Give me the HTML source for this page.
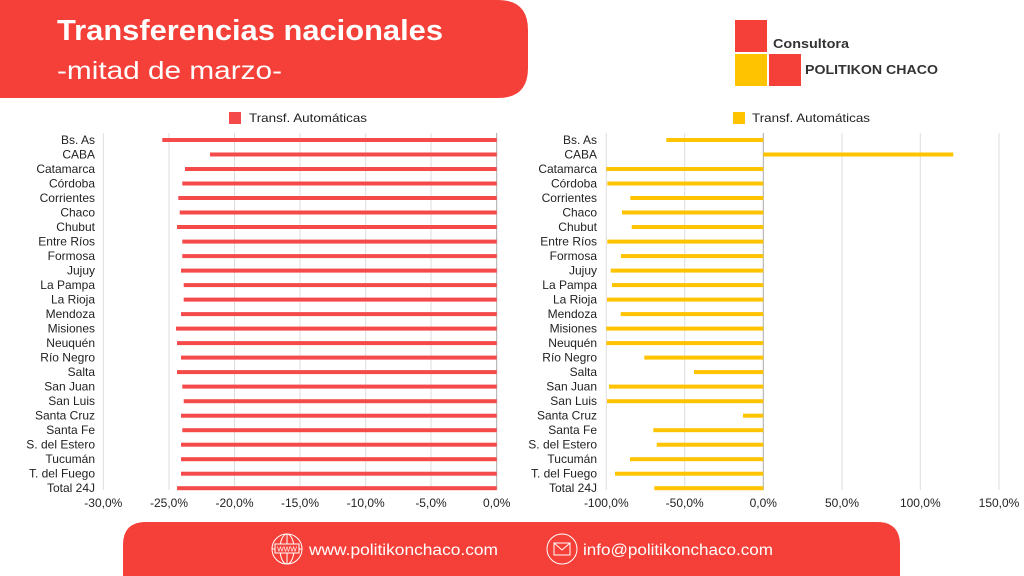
<!DOCTYPE html>
<html><head><meta charset="utf-8"><style>
html,body{margin:0;padding:0;background:#fff;}
svg{display:block;font-family:"Liberation Sans",sans-serif;}
</style></head><body>
<svg width="1024" height="576" viewBox="0 0 1024 576" xmlns="http://www.w3.org/2000/svg">
<path d="M0 0 H498 Q528 0 528 30 V68 Q528 98 498 98 H0 Z" fill="#F44038"/>
<text x="57" y="40" fill="#fff" font-size="29" font-weight="bold" textLength="386" lengthAdjust="spacingAndGlyphs">Transferencias nacionales</text>
<text x="57" y="79" fill="#fff" font-size="25" textLength="225" lengthAdjust="spacingAndGlyphs">-mitad de marzo-</text>
<rect x="735" y="20" width="32" height="32" fill="#F44038"/>
<rect x="735" y="54" width="32" height="32" fill="#FFC300"/>
<rect x="769" y="54" width="32" height="32" fill="#F44038"/>
<text x="773" y="48" font-size="12.5" font-weight="bold" fill="#333" textLength="76" lengthAdjust="spacingAndGlyphs">Consultora</text>
<text x="805" y="74" font-size="13" font-weight="bold" fill="#333" textLength="133" lengthAdjust="spacingAndGlyphs">POLITIKON CHACO</text>
<rect x="229" y="112" width="12" height="12" fill="#F44A4A"/>
<text x="249" y="122" font-size="12" fill="#222" textLength="118" lengthAdjust="spacingAndGlyphs">Transf. Automáticas</text>
<rect x="733" y="112" width="12" height="12" fill="#FFC300"/>
<text x="752" y="122" font-size="12" fill="#222" textLength="118" lengthAdjust="spacingAndGlyphs">Transf. Automáticas</text>
<g stroke="#ddd" stroke-width="1">
<line x1="103.3" y1="133" x2="103.3" y2="490"/><line x1="169" y1="133" x2="169" y2="490"/><line x1="234.5" y1="133" x2="234.5" y2="490"/><line x1="300" y1="133" x2="300" y2="490"/><line x1="365.7" y1="133" x2="365.7" y2="490"/><line x1="431" y1="133" x2="431" y2="490"/>
<line x1="606.3" y1="133" x2="606.3" y2="490"/><line x1="684.7" y1="133" x2="684.7" y2="490"/><line x1="842" y1="133" x2="842" y2="490"/><line x1="920.3" y1="133" x2="920.3" y2="490"/><line x1="999" y1="133" x2="999" y2="490"/>
</g>
<g stroke="#aaa"><line x1="496.7" y1="133" x2="496.7" y2="490"/><line x1="763.3" y1="133" x2="763.3" y2="490"/></g>
<g fill="#F44A4A">
<rect x="162.3" y="138" width="334.4" height="4"/>
<rect x="210" y="152.5" width="286.7" height="4"/>
<rect x="185" y="167" width="311.7" height="4"/>
<rect x="182.3" y="181.5" width="314.4" height="4"/>
<rect x="178.3" y="196" width="318.4" height="4"/>
<rect x="179.7" y="210.5" width="317" height="4"/>
<rect x="177" y="225" width="319.7" height="4"/>
<rect x="182.3" y="239.6" width="314.4" height="4"/>
<rect x="182.3" y="254.1" width="314.4" height="4"/>
<rect x="181" y="268.6" width="315.7" height="4"/>
<rect x="183.7" y="283.1" width="313" height="4"/>
<rect x="183.7" y="297.6" width="313" height="4"/>
<rect x="181" y="312.1" width="315.7" height="4"/>
<rect x="176" y="326.6" width="320.7" height="4"/>
<rect x="177" y="341.1" width="319.7" height="4"/>
<rect x="181" y="355.6" width="315.7" height="4"/>
<rect x="177" y="370.1" width="319.7" height="4"/>
<rect x="182.3" y="384.6" width="314.4" height="4"/>
<rect x="183.7" y="399.2" width="313" height="4"/>
<rect x="181" y="413.7" width="315.7" height="4"/>
<rect x="182.3" y="428.2" width="314.4" height="4"/>
<rect x="181" y="442.7" width="315.7" height="4"/>
<rect x="181" y="457.2" width="315.7" height="4"/>
<rect x="181" y="471.7" width="315.7" height="4"/>
<rect x="177" y="486.2" width="319.7" height="4"/>
</g>
<g fill="#FFC300">
<rect x="666.3" y="138" width="97" height="4"/>
<rect x="763.3" y="152.5" width="190" height="4"/>
<rect x="606.3" y="167" width="157" height="4"/>
<rect x="607.3" y="181.5" width="156" height="4"/>
<rect x="630.3" y="196" width="133" height="4"/>
<rect x="622" y="210.5" width="141.3" height="4"/>
<rect x="631.7" y="225" width="131.6" height="4"/>
<rect x="607.3" y="239.6" width="156" height="4"/>
<rect x="621" y="254.1" width="142.3" height="4"/>
<rect x="610.7" y="268.6" width="152.6" height="4"/>
<rect x="612" y="283.1" width="151.3" height="4"/>
<rect x="607" y="297.6" width="156.3" height="4"/>
<rect x="620.7" y="312.1" width="142.6" height="4"/>
<rect x="606.3" y="326.6" width="157" height="4"/>
<rect x="606.3" y="341.1" width="157" height="4"/>
<rect x="644.3" y="355.6" width="119" height="4"/>
<rect x="694" y="370.1" width="69.3" height="4"/>
<rect x="609" y="384.6" width="154.3" height="4"/>
<rect x="607" y="399.2" width="156.3" height="4"/>
<rect x="743" y="413.7" width="20.3" height="4"/>
<rect x="653.3" y="428.2" width="110" height="4"/>
<rect x="656.7" y="442.7" width="106.6" height="4"/>
<rect x="630" y="457.2" width="133.3" height="4"/>
<rect x="615" y="471.7" width="148.3" height="4"/>
<rect x="654.3" y="486.2" width="109" height="4"/>
</g>
<g font-size="12" fill="#222" text-anchor="end">
<g transform="translate(95,0)">
<text y="144">Bs. As</text><text y="158.5">CABA</text><text y="173">Catamarca</text><text y="187.5">Córdoba</text><text y="202">Corrientes</text><text y="216.5">Chaco</text><text y="231">Chubut</text><text y="245.6">Entre Ríos</text><text y="260.1">Formosa</text><text y="274.6">Jujuy</text><text y="289.1">La Pampa</text><text y="303.6">La Rioja</text><text y="318.1">Mendoza</text><text y="332.6">Misiones</text><text y="347.1">Neuquén</text><text y="361.6">Río Negro</text><text y="376.1">Salta</text><text y="390.6">San Juan</text><text y="405.2">San Luis</text><text y="419.7">Santa Cruz</text><text y="434.2">Santa Fe</text><text y="448.7">S. del Estero</text><text y="463.2">Tucumán</text><text y="477.7">T. del Fuego</text><text y="492.2">Total 24J</text>
</g>
<g transform="translate(597,0)">
<text y="144">Bs. As</text><text y="158.5">CABA</text><text y="173">Catamarca</text><text y="187.5">Córdoba</text><text y="202">Corrientes</text><text y="216.5">Chaco</text><text y="231">Chubut</text><text y="245.6">Entre Ríos</text><text y="260.1">Formosa</text><text y="274.6">Jujuy</text><text y="289.1">La Pampa</text><text y="303.6">La Rioja</text><text y="318.1">Mendoza</text><text y="332.6">Misiones</text><text y="347.1">Neuquén</text><text y="361.6">Río Negro</text><text y="376.1">Salta</text><text y="390.6">San Juan</text><text y="405.2">San Luis</text><text y="419.7">Santa Cruz</text><text y="434.2">Santa Fe</text><text y="448.7">S. del Estero</text><text y="463.2">Tucumán</text><text y="477.7">T. del Fuego</text><text y="492.2">Total 24J</text>
</g>
</g>
<g font-size="12" fill="#222" text-anchor="middle">
<text x="103.3" y="507">-30,0%</text><text x="169" y="507">-25,0%</text><text x="234.5" y="507">-20,0%</text><text x="300" y="507">-15,0%</text><text x="365.7" y="507">-10,0%</text><text x="431" y="507">-5,0%</text><text x="496.7" y="507">0,0%</text>
<text x="606.3" y="507">-100,0%</text><text x="684.7" y="507">-50,0%</text><text x="763.3" y="507">0,0%</text><text x="842" y="507">50,0%</text><text x="920.3" y="507">100,0%</text><text x="999" y="507">150,0%</text>
</g>
<path d="M123 576 V545 Q123 522 146 522 H877 Q900 522 900 545 V576 Z" fill="#F44038"/>
<g stroke="#fff" fill="none" stroke-width="1">
<ellipse cx="287" cy="549" rx="15" ry="15"/><ellipse cx="287" cy="549" rx="7" ry="15"/><line x1="272" y1="549" x2="302" y2="549"/><line x1="287" y1="534" x2="287" y2="564"/>
<circle cx="562" cy="549" r="15"/><rect x="554" y="543" width="16" height="12"/><path d="M554 543 L562 550 L570 543"/>
</g>
<rect x="275" y="544" width="24" height="9" fill="#F44038" stroke="#fff"/>
<text x="287" y="551.5" font-size="7" fill="#fff" text-anchor="middle">WWW</text>
<text x="309" y="555" font-size="15.5" fill="#fff" textLength="189" lengthAdjust="spacingAndGlyphs">www.politikonchaco.com</text>
<text x="583" y="555" font-size="15.5" fill="#fff" textLength="190" lengthAdjust="spacingAndGlyphs">info@politikonchaco.com</text>
</svg>
</body></html>
